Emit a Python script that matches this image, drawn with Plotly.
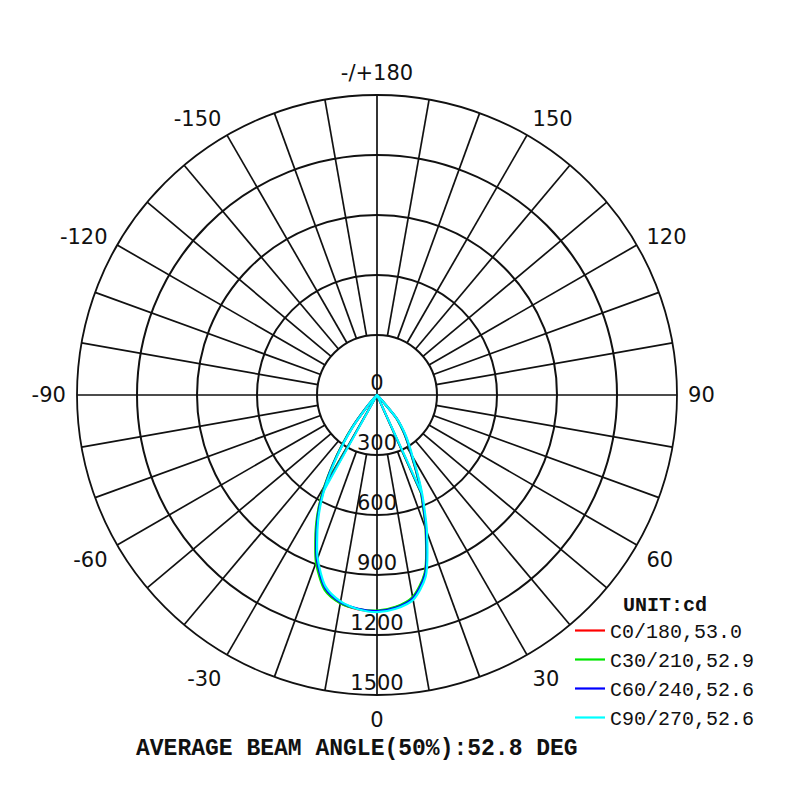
import numpy as np
import plotly.graph_objects as go

# ---------------- data ----------------
gamma = [0, 5, 10, 15, 20, 22.5, 25, 27.5, 30, 32.5, 35, 37.5, 40, 42.5, 45, 50, 60, 70, 80, 90]

# intensities (cd) on the left half (negative gamma) and right half (positive gamma)
c0_left = [1082, 1076, 1056, 1005, 884, 799, 715, 624, 519, 408, 298, 200, 92, 30, 9, 2, 0, 0, 0, 0]
c0_right = [1082, 1066, 1029, 925, 714, 605, 511, 420, 343, 290, 244, 197, 150, 34, 8, 2, 0, 0, 0, 0]
c30_left = [1078, 1074, 1057, 1010, 892, 806, 722, 631, 526, 414, 304, 206, 98, 32, 10, 2, 0, 0, 0, 0]
c30_right = [1078, 1063, 1025, 921, 709, 600, 507, 415, 339, 286, 240, 193, 146, 32, 7, 2, 0, 0, 0, 0]
c60_left = [1080, 1073, 1052, 1000, 878, 793, 709, 618, 513, 402, 293, 196, 88, 29, 9, 2, 0, 0, 0, 0]
c60_right = [1080, 1068, 1032, 929, 718, 609, 515, 423, 346, 293, 247, 200, 154, 36, 8, 2, 0, 0, 0, 0]
c90_left = [1086, 1075, 1048, 992, 868, 782, 698, 607, 502, 392, 284, 188, 82, 26, 8, 2, 0, 0, 0, 0]
c90_right = [1086, 1073, 1040, 940, 731, 622, 527, 434, 356, 302, 255, 207, 160, 39, 9, 2, 0, 0, 0, 0]

series_names = ["C0/180,53.0", "C30/210,52.9", "C60/240,52.6", "C90/270,52.6"]
series_colors = ["#ff0000", "#00e600", "#0000ff", "#00ffff"]
series_left = [c0_left, c30_left, c60_left, c90_left]
series_right = [c0_right, c30_right, c60_right, c90_right]

radial_ticks = [0, 300, 600, 900, 1200, 1500]
angle_tickvals = [0, 30, 60, 90, 120, 150, 180, 210, 240, 270, 300, 330]
angle_ticktext = ["0", "30", "60", "90", "120", "150", "-/+180", "-150", "-120", "-90", "-60", "-30"]
spoke_angles = list(range(0, 360, 10))

unit_text = "UNIT:cd"
footer_text = "AVERAGE BEAM ANGLE(50%):52.8 DEG"

# ---------------- figure ----------------
R_MAX = radial_ticks[-1]
GRID = "#111111"
OFF = 8  # page body margin
CX, CY, RAD = 377 - OFF, 395 - OFF, 300

fig = go.Figure()

# spokes (start at first ring, except the main axes which cross the centre)
sr, st = [], []
for a in spoke_angles:
    start = 0 if a % 90 == 0 else radial_ticks[1]
    sr += [start, R_MAX, None]
    st += [a, a, None]
fig.add_trace(go.Scatterpolar(r=sr, theta=st, mode="lines",
                              line=dict(color=GRID, width=1.7),
                              showlegend=False, hoverinfo="skip"))

# radial tick labels along the 0 direction
fig.add_trace(go.Scatterpolar(r=radial_ticks, theta=[0] * len(radial_ticks),
                              mode="text", text=[str(v) for v in radial_ticks],
                              textposition="top center",
                              textfont=dict(family="DejaVu Sans", size=21, color="#111"),
                              showlegend=False, hoverinfo="skip"))

g_arr = np.array(gamma, dtype=float)
for name, color, left, right in zip(series_names, series_colors, series_left, series_right):
    theta = [-g for g in gamma[::-1]] + gamma[1:]
    r = list(left[::-1]) + list(right[1:])
    fig.add_trace(go.Scatterpolar(r=r, theta=theta, mode="lines", name=name,
                                  line=dict(color=color, width=2.2, shape="spline", smoothing=0.8),
                                  hoverinfo="skip"))
    # beam angle lines to the 50% points
    L = np.array(left, dtype=float)
    Rr = np.array(right, dtype=float)
    half = 0.5 * max(L.max(), Rr.max())
    n = 13
    gl = np.interp(half, L[:n][::-1], g_arr[:n][::-1])
    gr = np.interp(half, Rr[:n][::-1], g_arr[:n][::-1])
    fig.add_trace(go.Scatterpolar(r=[half, 0, half], theta=[-gl, 0, gr], mode="lines",
                                  line=dict(color=color, width=2.0),
                                  showlegend=False, hoverinfo="skip"))

fig.update_layout(
    width=800, height=800,
    margin=dict(l=0, r=0, t=0, b=0),
    paper_bgcolor="white",
    showlegend=True,
    legend=dict(x=(570 - OFF) / 800, y=1 - (585 - OFF) / 800, xanchor="left", yanchor="top",
                bgcolor="rgba(0,0,0,0)", borderwidth=0,
                font=dict(family="Liberation Mono", size=20, color="#111"),
                title=dict(text="<b>" + unit_text + "</b>", side="top center",
                           font=dict(family="Liberation Mono", size=20, color="#111"))),
    polar=dict(
        domain=dict(x=[(CX - RAD) / 800, (CX + RAD) / 800],
                    y=[(800 - CY - RAD) / 800, (800 - CY + RAD) / 800]),
        bgcolor="white",
        radialaxis=dict(range=[0, R_MAX], tickvals=radial_ticks[1:], showticklabels=False,
                        ticks="", showline=False, showgrid=True, gridcolor=GRID, gridwidth=1.7),
        angularaxis=dict(rotation=270, direction="counterclockwise",
                         tickvals=angle_tickvals, ticktext=angle_ticktext,
                         showgrid=False, showline=True, linecolor=GRID, linewidth=1.8,
                         ticks="outside", ticklen=6, tickcolor="rgba(0,0,0,0)",
                         tickfont=dict(family="DejaVu Sans", size=21, color="#111")),
    ),
    annotations=[dict(text="<b>" + footer_text + "</b>", x=(357 - OFF) / 800, y=1 - (749 - OFF) / 800,
                      xref="paper", yref="paper", showarrow=False,
                      xanchor="center", yanchor="middle",
                      font=dict(family="Liberation Mono", size=23, color="#111"))],
)

fig.write_html("out.html")
